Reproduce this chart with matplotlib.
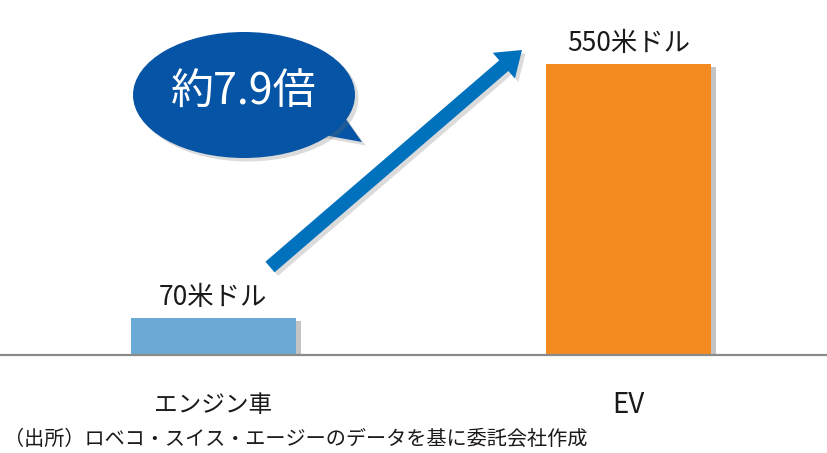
import matplotlib
matplotlib.use("Agg")
import matplotlib.pyplot as plt
from matplotlib.patches import Ellipse, Polygon, FancyArrow
import matplotlib.patheffects as pe

plt.rcParams['font.family'] = ['Noto Sans CJK JP', 'DejaVu Sans']

categories = ["エンジン車", "EV"]
values = [70, 550]
value_labels = ["70米ドル", "550米ドル"]
bar_colors = ["#6aaad4", "#f38b21"]
bubble_text = "約7.9倍"
source_text = "（出所）ロベコ・スイス・エージーのデータを基に委託会社作成"

W, H = 827, 453
fig = plt.figure(figsize=(W / 100, H / 100), dpi=100)

base_px = 355
ax = fig.add_axes([0, 1 - base_px / H, 1, base_px / H])
ax.set_xlim(-0.514, 1.478)
ax.set_ylim(0, 550 * base_px / 291)
ax.axis('off')

shadow = [pe.SimplePatchShadow(offset=(3.5, -2.5), shadow_rgbFace='#8a8a8a', alpha=0.5), pe.Normal()]
bars = ax.bar(range(len(values)), values, width=0.398, color=bar_colors, zorder=3)
for b in bars:
    b.set_path_effects(shadow)

ax.axhline(0, color='#8a8a8a', lw=1.6, clip_on=False, zorder=4)

cat_sizes = [17, 20]
for i, (v, lab) in enumerate(zip(values, value_labels)):
    ax.annotate(lab, xy=(i, v), xytext=(0, 15), textcoords='offset points',
                ha='center', va='center', fontsize=19, color='#1a1a1a')
    ax.annotate(categories[i], xy=(i, 0), xytext=(0, -36), textcoords='offset points',
                ha='center', va='center', fontsize=cat_sizes[i], color='#1a1a1a', annotation_clip=False)

# overlay in pixel coordinates for decorations
ov = fig.add_axes([0, 0, 1, 1])
ov.set_xlim(0, W)
ov.set_ylim(H, 0)
ov.axis('off')

soft = [pe.SimplePatchShadow(offset=(2.5, -2.5), shadow_rgbFace='#707070', alpha=0.25), pe.Normal()]

arrow = FancyArrow(270, 267, 252, -217, width=14, head_width=34, head_length=24,
                   length_includes_head=True, color='#0071bd', lw=0, zorder=5)
arrow.set_path_effects(soft)
ov.add_patch(arrow)

ell = Ellipse((244, 95), 222, 126, color='#0554a5', lw=0, zorder=5)
tail = Polygon([(338, 108), (362, 142), (318, 134)], closed=True, color='#0554a5', lw=0, zorder=5)
ell.set_path_effects(soft)
tail.set_path_effects(soft)
ov.add_patch(tail)
ov.add_patch(ell)
ov.text(244, 93, bubble_text, ha='center', va='center', fontsize=31, color='white', zorder=6)

fig.text(4 / W, 1 - 439 / H, source_text, ha='left', va='center', fontsize=14.5, color='#1a1a1a')

fig.savefig("out.png", dpi=100, facecolor='white')
